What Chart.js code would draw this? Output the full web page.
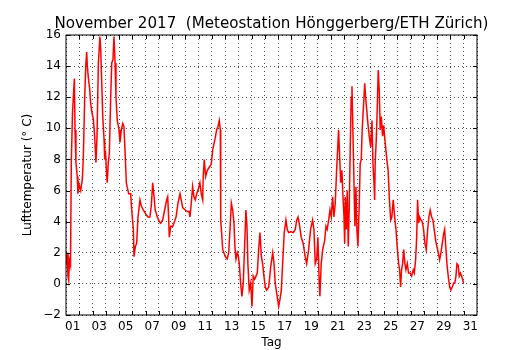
<!DOCTYPE html>
<html>
<head>
<meta charset="utf-8">
<script src="https://cdn.jsdelivr.net/npm/chart.js@4.4.1/dist/chart.umd.min.js"></script>
<style>
  html, body { margin: 0; padding: 0; background: #fff; }
  #wrap { width: 530px; height: 350px; }
</style>
</head>
<body>
<div id="wrap"><canvas id="chart" width="530" height="350"></canvas></div>
<script>
const chartTitle = 'November 2017  (Meteostation Hönggerberg/ETH Zürich)';
const xTitle = 'Tag';
const yTitle = 'Lufttemperatur (° C)';

// time in days since 1 Nov 00:00
const days = [
  0.02,0.08,0.15,0.20,0.26,0.34,0.40,0.49,0.63,0.68,
  0.75,0.85,0.90,0.98,1.11,1.23,1.31,1.41,1.49,1.56,
  1.61,1.68,1.79,1.86,1.96,2.06,2.16,2.26,2.34,2.44,
  2.56,2.62,2.69,2.77,2.87,2.92,2.99,3.07,3.11,3.19,
  3.27,3.37,3.45,3.54,3.62,3.70,3.77,3.87,4.00,4.07,
  4.17,4.28,4.37,4.47,4.55,4.62,4.73,4.88,4.92,5.00,
  5.08,5.13,5.23,5.33,5.43,5.58,5.68,5.83,6.01,6.18,
  6.33,6.43,6.54,6.64,6.73,6.89,7.04,7.14,7.29,7.44,
  7.59,7.67,7.74,7.79,7.90,8.05,8.14,8.30,8.45,8.60,
  8.69,8.80,8.99,9.15,9.28,9.35,9.45,9.55,9.65,9.75,
  9.86,9.98,10.10,10.20,10.31,10.35,10.43,10.53,10.66,10.81,
  10.96,11.06,11.16,11.26,11.36,11.46,11.56,11.64,11.67,11.76,
  11.82,11.91,12.01,12.16,12.27,12.37,12.47,12.57,12.67,12.74,
  12.82,12.92,12.99,13.07,13.17,13.27,13.37,13.48,13.57,13.65,
  13.72,13.82,13.93,14.03,14.12,14.23,14.33,14.43,14.53,14.63,
  14.73,14.83,14.93,15.03,15.13,15.29,15.44,15.59,15.69,15.78,
  15.89,16.04,16.14,16.24,16.34,16.46,16.59,16.69,16.79,16.97,
  17.14,17.29,17.40,17.50,17.59,17.74,17.89,18.04,18.15,18.30,
  18.45,18.60,18.70,18.80,18.91,19.00,19.10,19.15,19.25,19.36,
  19.51,19.61,19.70,19.81,19.91,20.01,20.11,20.21,20.31,20.41,
  20.51,20.56,20.64,20.72,20.81,20.89,20.96,21.02,21.06,21.14,
  21.21,21.29,21.36,21.44,21.51,21.57,21.64,21.72,21.79,21.87,
  21.94,22.02,22.12,22.19,22.27,22.34,22.45,22.53,22.60,22.68,
  22.77,22.87,22.98,23.08,23.15,23.23,23.28,23.32,23.40,23.48,
  23.55,23.63,23.70,23.78,23.88,23.96,24.03,24.13,24.23,24.30,
  24.38,24.49,24.58,24.68,24.79,24.89,24.98,25.09,25.16,25.24,
  25.31,25.39,25.47,25.56,25.64,25.74,25.84,25.96,26.07,26.19,
  26.27,26.37,26.45,26.52,26.60,26.67,26.77,26.87,26.97,27.07,
  27.17,27.28,27.37,27.47,27.58,27.68,27.77,27.88,27.98,28.08,
  28.18,28.28,28.38,28.48,28.56,28.63,28.73,28.83,28.94,29.03,
  29.13,29.24,29.33,29.41,29.49,29.58,29.66,29.75,29.84,29.91,
  29.99
];

// air temperature in deg C
const temps = [
  1.2,2.0,0.5,0.25,1.5,1.2,7.8,11,13.2,9.9,
  7.8,6.9,5.8,6.4,6.0,6.7,8.2,12.0,14.0,14.9,
  14.0,13.3,12.5,11.6,11.0,10.6,9.5,7.8,9.5,14.2,
  15.9,15.0,13.1,10.8,9.3,8.0,8.3,6.9,6.5,7.8,
  8.4,12.0,14.2,14.4,15.9,14.2,12.0,10.5,9.9,9.1,
  9.9,10.3,10.1,8.2,6.5,6.2,5.8,5.8,5.2,4.3,
  3.5,1.75,2.4,2.6,4.3,5.4,5.0,4.75,4.5,4.3,
  4.3,5.0,6.5,5.6,4.75,4.3,4.0,3.9,4.1,4.75,
  5.4,5.6,4.3,3.0,3.7,3.7,3.9,4.3,5.2,5.8,
  5.4,4.9,4.75,4.65,4.65,4.3,5.2,6.25,5.6,5.4,
  5.8,6.1,6.5,5.8,5.4,6.9,8.0,6.9,7.3,7.5,
  7.7,8.6,9.0,9.4,9.9,10.1,10.5,9.9,4.1,3.0,
  2.2,2.0,1.75,1.6,2.0,3.5,5.2,4.75,3.9,2.4,
  1.6,2.0,1.8,1.3,0.05,-0.8,0.05,2.6,4.75,3.7,
  1.3,-0.4,0.05,-1.45,0.5,0.3,0.5,0.7,2.2,3.3,
  1.8,1.3,0.5,-0.2,-0.4,-0.2,1.1,2.0,1.3,0.05,
  -0.6,-1.45,-1.0,-0.4,1.3,3.3,4.1,3.5,3.3,3.35,
  3.3,3.5,4.1,4.3,3.9,3.0,2.6,1.75,1.3,2.2,
  3.5,4.1,3.5,1.3,1.6,3.0,0.05,-0.8,1.3,2.2,
  2.8,3.7,3.5,4.1,4.75,4.3,5.6,4.3,5.2,7.3,
  9.0,9.9,8.2,6.5,7.3,5.6,4.5,2.6,5.6,3.5,
  6.0,2.4,4.8,8.8,12.0,12.7,9.9,6.5,3.7,6.25,
  3.5,2.4,5.2,7.75,8.0,9.9,11.6,12.9,12.0,11.2,
  10.3,9.5,8.8,10.5,7.75,6.5,5.4,7.75,9.25,11.4,
  13.75,12.4,9.9,10.75,9.5,10.2,9.5,8.6,7.75,7.3,
  5.6,4.1,4.3,5.4,4.3,3.5,2.4,1.3,0.9,-0.2,
  0.9,1.3,2.2,1.3,0.9,1.3,0.7,0.7,0.5,0.9,
  0.7,1.55,3.0,5.4,3.9,4.3,4.1,4.0,3.5,2.6,
  2.2,3.5,4.3,4.75,4.3,4.1,3.5,2.8,2.4,2.0,
  1.55,2.0,2.6,3.2,3.5,2.6,1.3,0.5,-0.2,-0.4,
  -0.2,0.05,0.05,0.5,1.3,1.2,0.5,0.7,0.5,0.3,
  0.05
];

// labels sit at the middle of every other day
const dayLabels = ['01','03','05','07','09','11','13','15','17','19','21','23','25','27','29','31'];
const yTicks = [-2, 0, 2, 4, 6, 8, 10, 12, 14, 16];
const yTickLabels = ['\u22122','0','2','4','6','8','10','12','14','16'];

Chart.defaults.font.family = '"DejaVu Sans", sans-serif';
Chart.defaults.font.size = 12;
Chart.defaults.color = '#000';

// frame, inward ticks and title (matplotlib look)
const framePlugin = {
  id: 'frame',
  afterDatasetsDraw(chart) {
    const { ctx, chartArea: a, scales: { x, y } } = chart;
    ctx.save();
    ctx.strokeStyle = '#000';
    ctx.lineWidth = 1;
    ctx.beginPath();
    for (let d = 1; d < 31; d++) {
      const px = Math.round(x.getPixelForValue(d)) + 0.5;
      ctx.moveTo(px, a.bottom); ctx.lineTo(px, a.bottom - 4);
      ctx.moveTo(px, a.top); ctx.lineTo(px, a.top + 4);
    }
    yTicks.forEach(v => {
      const py = Math.round(y.getPixelForValue(v)) + 0.5;
      ctx.moveTo(a.left, py); ctx.lineTo(a.left + 4, py);
      ctx.moveTo(a.right, py); ctx.lineTo(a.right - 4, py);
    });
    ctx.stroke();
    ctx.strokeRect(a.left, a.top, a.right - a.left, a.bottom - a.top);

    ctx.fillStyle = '#000';
    ctx.font = '15.1px "DejaVu Sans"';
    ctx.textAlign = 'center';
    ctx.textBaseline = 'alphabetic';
    ctx.fillText(chartTitle, (a.left + a.right) / 2, 28);
    ctx.restore();
  }
};

new Chart(document.getElementById('chart'), {
  type: 'line',
  data: {
    datasets: [{
      data: days.map((d, i) => ({ x: d, y: temps[i] })),
      borderColor: '#ff0000',
      borderWidth: 1.5,
      pointRadius: 0,
      tension: 0,
      fill: false
    }]
  },
  options: {
    responsive: false,
    animation: false,
    events: [],
    layout: { padding: { top: 35, right: 53, left: 0, bottom: 0 } },
    plugins: { legend: { display: false }, tooltip: { enabled: false } },
    scales: {
      x: {
        type: 'linear',
        min: 0,
        max: 31,
        afterBuildTicks: s => { s.ticks = Array.from({ length: 31 }, (_, i) => ({ value: i + 0.5 })); },
        afterFit: s => { s.height = 35; },
        ticks: {
          autoSkip: false,
          maxRotation: 0,
          minRotation: 0,
          padding: 5,
          callback: (v, i) => (i % 2 === 0 ? dayLabels[i / 2] : '')
        },
        grid: { offset: true, drawTicks: false, color: 'rgba(0,0,0,0.7)', lineWidth: 1 },
        border: { display: false, dash: [1, 3] },
        title: { display: true, text: xTitle, padding: { top: 0, bottom: 0 } }
      },
      y: {
        min: -2,
        max: 16,
        afterBuildTicks: s => { s.ticks = yTicks.map(v => ({ value: v })); },
        afterFit: s => { s.width = 66; },
        ticks: {
          padding: 5,
          callback: (v, i) => yTickLabels[i]
        },
        grid: { drawTicks: false, color: 'rgba(0,0,0,0.7)', lineWidth: 1 },
        border: { display: false, dash: [1, 3] },
        title: { display: true, text: yTitle, padding: { top: 21, bottom: 0 } }
      }
    }
  },
  plugins: [framePlugin]
});
</script>
</body>
</html>
